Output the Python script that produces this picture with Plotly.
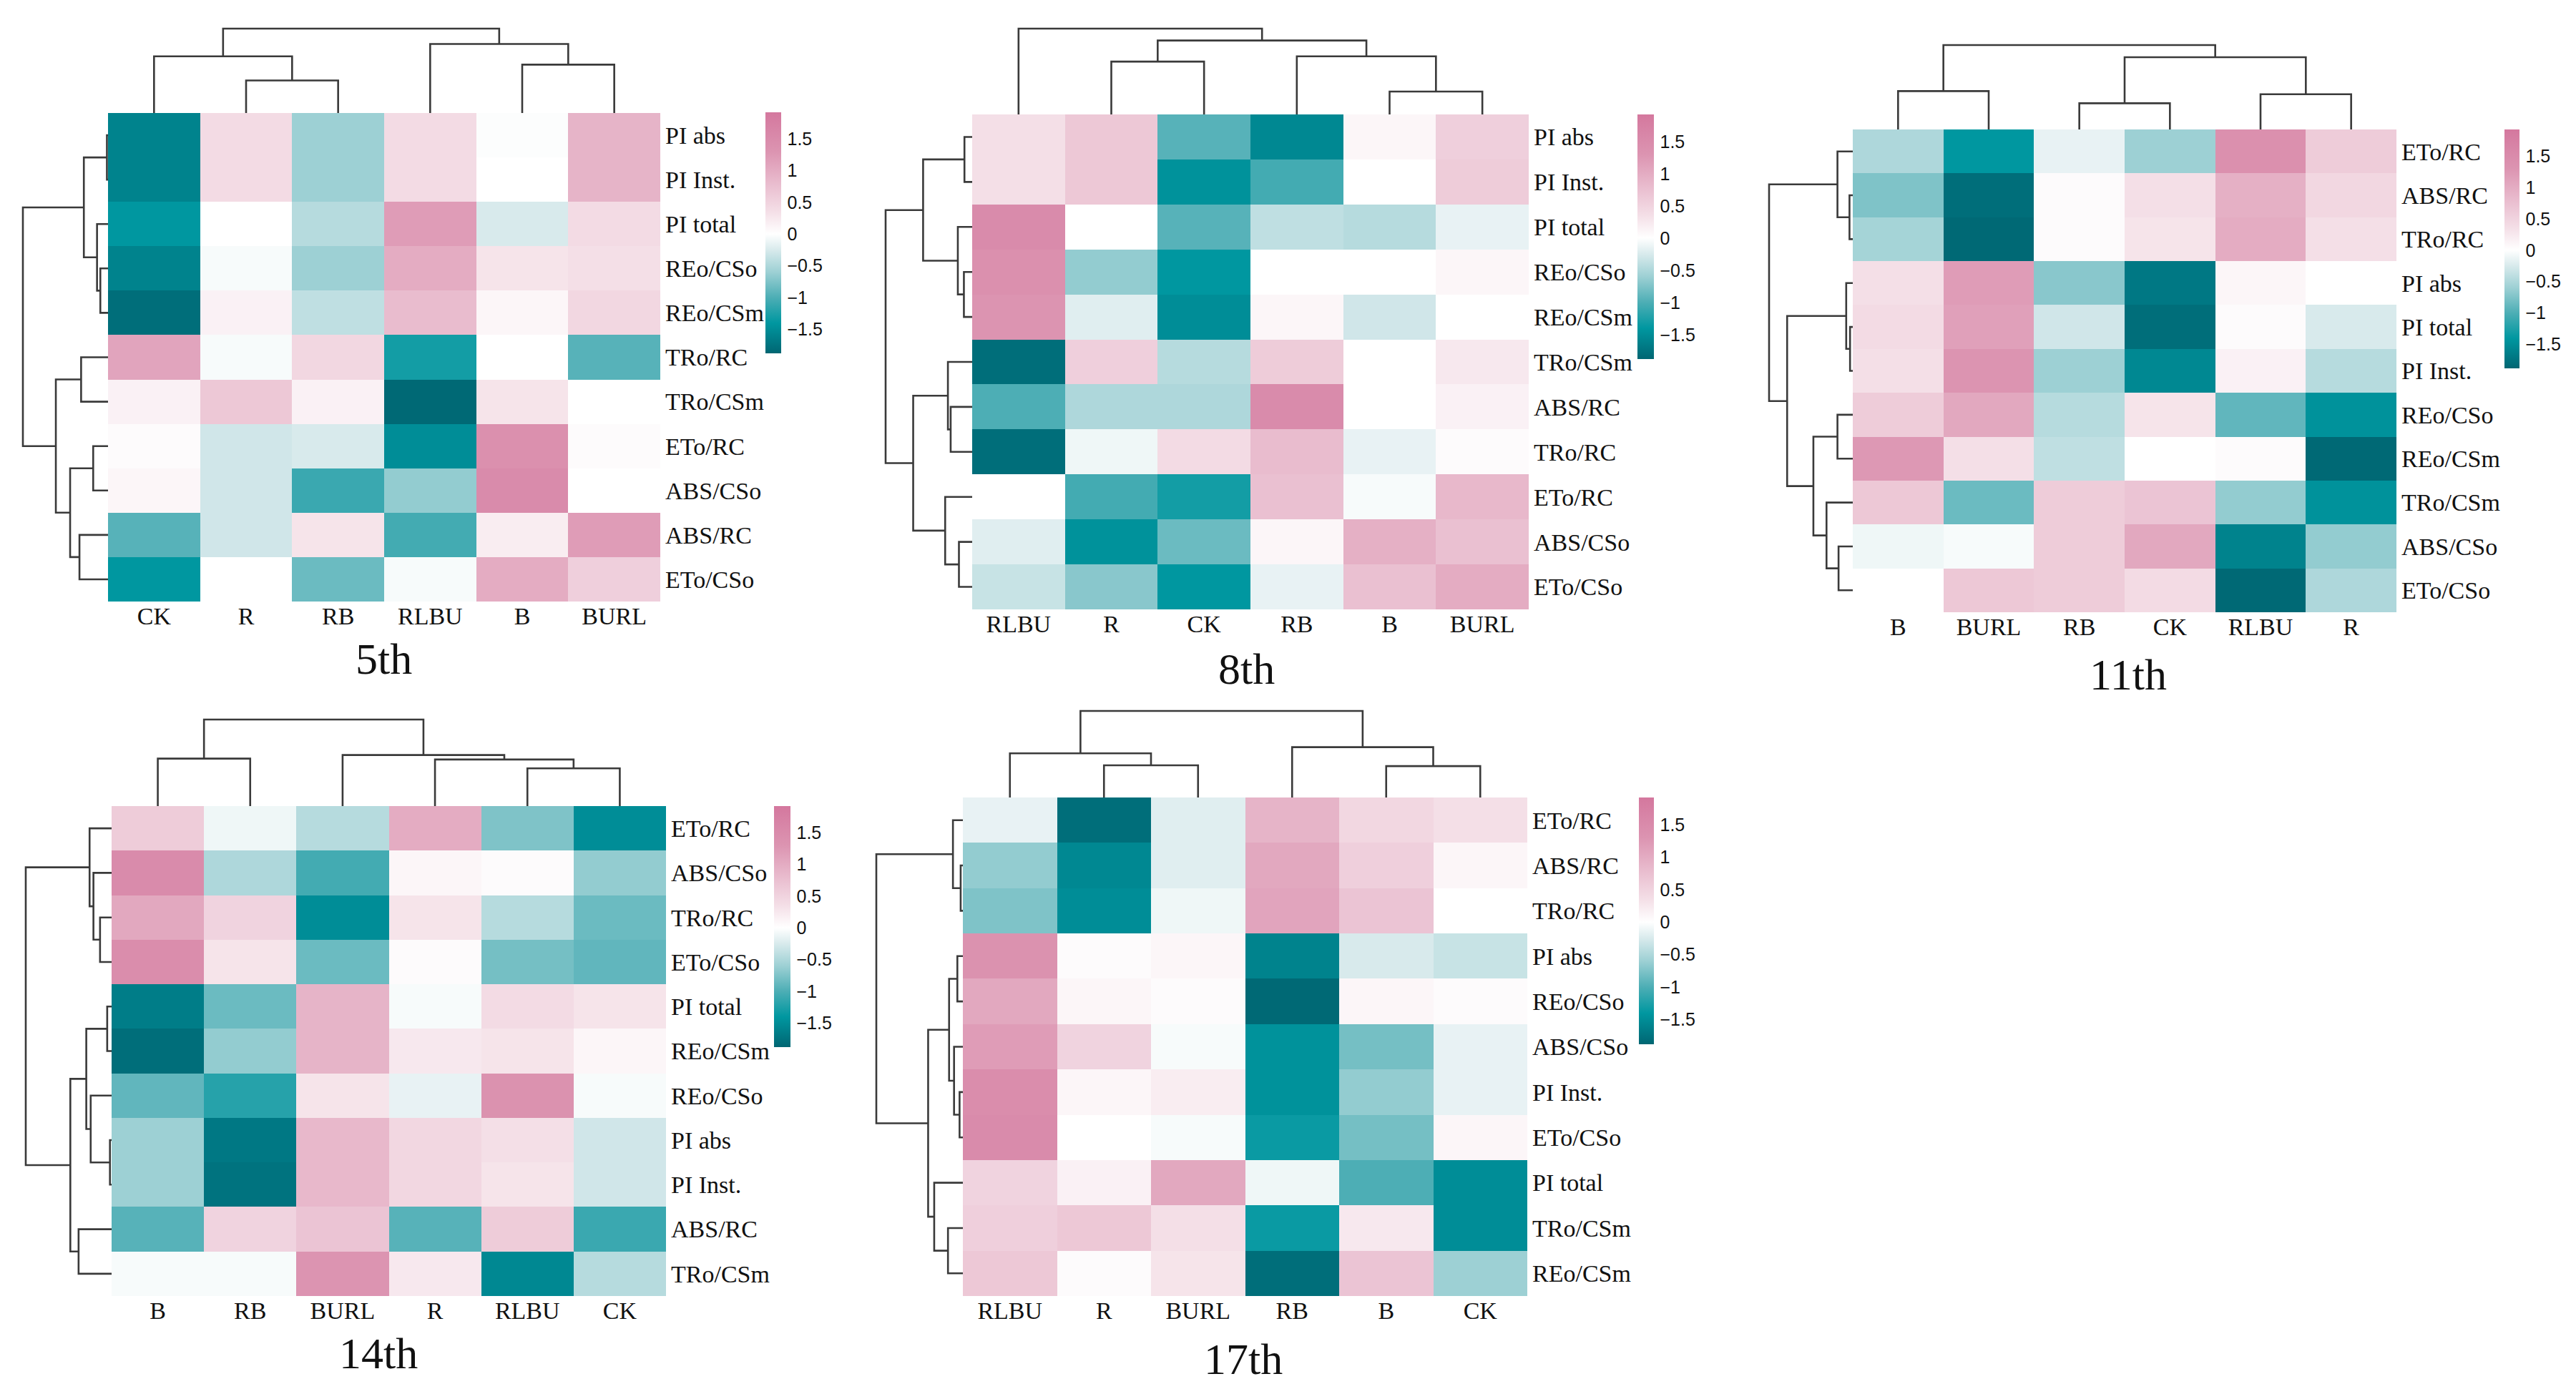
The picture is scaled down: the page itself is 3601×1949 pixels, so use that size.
import plotly.graph_objects as go

W, H = 3601, 1949

# ---- data -------------------------------------------------------------------

panel_titles = ["5th", "8th", "11th", "14th", "17th"]

cols_5th = ["CK", "R", "RB", "RLBU", "B", "BURL"]
rows_5th = ["PI abs", "PI Inst.", "PI total", "REo/CSo", "REo/CSm", "TRo/RC",
            "TRo/CSm", "ETo/RC", "ABS/CSo", "ABS/RC", "ETo/CSo"]
z_5th = [
    [-1.6, 0.4, -0.6, 0.4, -0.02, 0.9],
    [-1.6, 0.4, -0.6, 0.4, 0.0, 0.9],
    [-1.4, 0.0, -0.45, 1.2, -0.25, 0.4],
    [-1.6, -0.05, -0.6, 1.0, 0.3, 0.35],
    [-1.8, 0.15, -0.4, 0.8, 0.1, 0.45],
    [1.1, -0.05, 0.45, -1.3, 0.0, -0.95],
    [0.15, 0.65, 0.15, -1.85, 0.3, 0.0],
    [0.05, -0.3, -0.25, -1.5, 1.4, 0.05],
    [0.1, -0.3, -1.1, -0.65, 1.5, 0.0],
    [-0.95, -0.3, 0.3, -1.05, 0.2, 1.2],
    [-1.4, 0.0, -0.85, -0.05, 1.0, 0.55],
]
# merges: (child a, child b, height); ids >= n refer to earlier merges
top_5th = [(1, 2, 74), (4, 5, 110), (0, 6, 129), (3, 7, 157), (8, 9, 192)]
left_5th = [(0, 1, 2), (3, 4, 14), (2, 12, 20), (11, 13, 44), (5, 6, 49),
            (7, 8, 27), (9, 10, 52), (16, 17, 69), (15, 18, 95), (14, 19, 155)]

cols_8th = ["RLBU", "R", "CK", "RB", "B", "BURL"]
rows_8th = ["PI abs", "PI Inst.", "PI total", "REo/CSo", "REo/CSm", "TRo/CSm",
            "ABS/RC", "TRo/RC", "ETo/RC", "ABS/CSo", "ETo/CSo"]
z_8th = [
    [0.35, 0.65, -0.95, -1.55, 0.1, 0.55],
    [0.35, 0.65, -1.45, -1.05, 0.0, 0.6],
    [1.5, 0.0, -0.95, -0.4, -0.45, -0.15],
    [1.4, -0.65, -1.4, 0.0, 0.0, 0.1],
    [1.3, -0.2, -1.5, 0.1, -0.3, 0.0],
    [-1.8, 0.55, -0.45, 0.6, 0.0, 0.25],
    [-1.0, -0.5, -0.5, 1.5, 0.0, 0.15],
    [-1.8, -0.1, 0.4, 0.8, -0.15, 0.05],
    [0.0, -1.05, -1.3, 0.75, -0.05, 0.85],
    [-0.2, -1.45, -0.85, 0.1, 0.95, 0.75],
    [-0.35, -0.7, -1.4, -0.15, 0.75, 1.0],
]
top_8th = [(1, 2, 120), (4, 5, 52), (3, 7, 132), (6, 8, 168), (0, 9, 195)]
left_8th = [(0, 1, 14), (3, 4, 15), (2, 12, 26), (11, 13, 89), (6, 7, 39),
            (5, 15, 44), (9, 10, 24), (8, 17, 49), (16, 18, 107), (14, 19, 157)]

cols_11th = ["B", "BURL", "RB", "CK", "RLBU", "R"]
rows_11th = ["ETo/RC", "ABS/RC", "TRo/RC", "PI abs", "PI total", "PI Inst.",
             "REo/CSo", "REo/CSm", "TRo/CSm", "ABS/CSo", "ETo/CSo"]
z_11th = [
    [-0.5, -1.4, -0.15, -0.6, 1.4, 0.6],
    [-0.75, -1.8, 0.05, 0.35, 0.95, 0.45],
    [-0.55, -1.85, 0.05, 0.3, 1.0, 0.35],
    [0.35, 1.2, -0.7, -1.7, 0.1, 0.0],
    [0.4, 1.15, -0.3, -1.8, 0.05, -0.25],
    [0.35, 1.3, -0.6, -1.55, 0.15, -0.45],
    [0.6, 1.05, -0.45, 0.3, -0.9, -1.45],
    [1.25, 0.35, -0.4, 0.0, 0.05, -1.85],
    [0.65, -0.85, 0.6, 0.7, -0.65, -1.45],
    [-0.1, -0.05, 0.6, 1.05, -1.6, -0.65],
    [0.0, 0.65, 0.6, 0.4, -1.85, -0.5],
]
top_11th = [(0, 1, 85), (2, 3, 58), (4, 5, 78), (7, 8, 160), (6, 9, 187)]
left_11th = [(1, 2, 6), (0, 11, 28), (4, 5, 5), (3, 13, 12), (6, 7, 28),
             (9, 10, 26), (8, 16, 48), (15, 17, 72), (14, 18, 120), (12, 19, 153)]

cols_14th = ["B", "RB", "BURL", "R", "RLBU", "CK"]
rows_14th = ["ETo/RC", "ABS/CSo", "TRo/RC", "ETo/CSo", "PI total", "REo/CSm",
             "REo/CSo", "PI abs", "PI Inst.", "ABS/RC", "TRo/CSm"]
z_14th = [
    [0.6, -0.1, -0.45, 1.0, -0.75, -1.5],
    [1.5, -0.5, -1.05, 0.1, 0.05, -0.65],
    [1.05, 0.5, -1.5, 0.3, -0.45, -0.85],
    [1.45, 0.3, -0.85, 0.05, -0.8, -0.9],
    [-1.65, -0.85, 0.9, -0.05, 0.4, 0.3],
    [-1.8, -0.65, 0.9, 0.25, 0.3, 0.1],
    [-0.9, -1.2, 0.3, -0.15, 1.35, -0.05],
    [-0.6, -1.7, 0.85, 0.45, 0.35, -0.3],
    [-0.6, -1.75, 0.85, 0.45, 0.3, -0.3],
    [-0.95, 0.5, 0.7, -0.95, 0.6, -1.1],
    [-0.05, -0.05, 1.3, 0.25, -1.55, -0.45],
]
top_14th = [(0, 1, 107), (4, 5, 85), (3, 7, 105), (2, 8, 115), (6, 9, 195)]
left_14th = [(2, 3, 21), (1, 11, 33), (0, 12, 40), (4, 5, 8), (7, 8, 3),
             (6, 15, 38), (14, 16, 46), (9, 10, 60), (17, 18, 75), (13, 19, 156)]

cols_17th = ["RLBU", "R", "BURL", "RB", "B", "CK"]
rows_17th = ["ETo/RC", "ABS/RC", "TRo/RC", "PI abs", "REo/CSo", "ABS/CSo",
             "PI Inst.", "ETo/CSo", "PI total", "TRo/CSm", "REo/CSm"]
z_17th = [
    [-0.15, -1.8, -0.2, 0.9, 0.45, 0.35],
    [-0.65, -1.55, -0.2, 1.05, 0.55, 0.1],
    [-0.75, -1.5, -0.1, 1.1, 0.7, 0.0],
    [1.35, 0.05, 0.1, -1.6, -0.25, -0.35],
    [1.05, 0.1, 0.05, -1.85, 0.1, 0.05],
    [1.2, 0.5, -0.05, -1.45, -0.8, -0.15],
    [1.45, 0.1, 0.2, -1.45, -0.65, -0.15],
    [1.5, 0.0, -0.05, -1.35, -0.8, 0.1],
    [0.5, 0.15, 1.05, -0.1, -1.0, -1.5],
    [0.55, 0.65, 0.35, -1.35, 0.25, -1.5],
    [0.65, 0.05, 0.3, -1.8, 0.7, -0.6],
]
top_17th = [(1, 2, 73), (0, 6, 100), (4, 5, 71), (3, 8, 114), (7, 9, 196)]
left_17th = [(1, 2, 4), (0, 11, 18), (3, 4, 10), (6, 7, 6), (5, 14, 16),
             (13, 15, 25), (9, 10, 27), (8, 17, 52), (16, 18, 63), (12, 19, 157)]

cbar_vals = [-1.5, -1, -0.5, 0, 0.5, 1, 1.5]
cbar_text = ["\u22121.5", "\u22121", "\u22120.5", "0", "0.5", "1", "1.5"]
z_min, z_max = -1.88, 1.92

panels = [
    (cols_5th, rows_5th, z_5th, top_5th, left_5th),
    (cols_8th, rows_8th, z_8th, top_8th, left_8th),
    (cols_11th, rows_11th, z_11th, top_11th, left_11th),
    (cols_14th, rows_14th, z_14th, top_14th, left_14th),
    (cols_17th, rows_17th, z_17th, top_17th, left_17th),
]

# ---- placement (pixels of the 3601x1949 canvas) ------------------------------
# heat box (x0, y0, x1, y1), top-dendro root y, left-dendro root x,
# colour bar (x0, y0, x1, y1), title centre (x, y)
boxes = [
    dict(heat=(151, 158, 923, 841), top=40, left=32,
         cbar=(1070, 157, 1092, 494), title=(536, 921)),
    dict(heat=(1359, 160, 2137, 852), top=40, left=1238,
         cbar=(2289, 160, 2312, 502), title=(1742, 935)),
    dict(heat=(2590, 181, 3350, 856), top=63, left=2473,
         cbar=(3501, 181, 3522, 515), title=(2975, 943)),
    dict(heat=(156, 1127, 931, 1812), top=1006, left=36,
         cbar=(1082, 1127, 1105, 1464), title=(529, 1892)),
    dict(heat=(1346, 1115, 2135, 1812), top=994, left=1225,
         cbar=(2291, 1115, 2312, 1460), title=(1738, 1900)),
]
OFF = 8  # the page body adds an 8 px margin round the figure

colorscale = [
    [0.0, "#006672"], [0.021, "#006e7a"], [0.126, "#0097a0"], [0.232, "#4daeb5"],
    [0.337, "#9dd0d4"], [0.429, "#d8eaec"], [0.495, "#ffffff"], [0.587, "#f4dfe7"],
    [0.705, "#e9bcce"], [0.837, "#dc94b1"], [1.0, "#d4789e"],
]

SERIF = "Liberation Serif, Times New Roman, serif"
LABEL_FONT = dict(family=SERIF, size=34, color="#111111")
TICK_FONT = dict(family="Liberation Sans, Arial, sans-serif", size=25, color="#111111")
LINE = dict(color="#3a3a3a", width=2.6)


def fx(px):
    return (px - OFF) / W


def fy(py):
    return 1 - (py - OFF) / H


def dendro_segments(merges, n):
    pos = list(range(n)) + [None] * len(merges)
    hgt = [0.0] * n + [None] * len(merges)
    xs, ys = [], []
    for k, (a, b, h) in enumerate(merges):
        xs += [pos[a], pos[a], pos[b], pos[b], None]
        ys += [hgt[a], h, h, hgt[b], None]
        pos[n + k] = (pos[a] + pos[b]) / 2
        hgt[n + k] = h
    return xs, ys


def sfx(k):
    return "" if k == 1 else str(k)


fig = go.Figure()
layout = {}
PAD = 3  # px of headroom so the root line is not clipped

for i, ((cols, rows, z, top, left), box) in enumerate(zip(panels, boxes)):
    hx0, hy0, hx1, hy1 = box["heat"]
    nc, nr = len(cols), len(rows)
    a_heat, a_top, a_left = 3 * i + 1, 3 * i + 2, 3 * i + 3

    cx0, cy0, cx1, cy1 = box["cbar"]
    fig.add_trace(go.Heatmap(
        z=z, x=list(range(nc)), y=list(range(nr)),
        colorscale=colorscale, zmin=z_min, zmax=z_max,
        xaxis="x" + sfx(a_heat), yaxis="y" + sfx(a_heat),
        hoverinfo="skip",
        colorbar=dict(
            x=fx(cx0), xanchor="left", y=fy(cy0), yanchor="top",
            len=(cy1 - cy0) / H, lenmode="fraction",
            thickness=cx1 - cx0, thicknessmode="pixels",
            xpad=0, ypad=0, outlinewidth=0,
            tickvals=cbar_vals, ticktext=cbar_text,
            ticks="outside", ticklen=4, tickcolor="rgba(0,0,0,0)",
            tickfont=TICK_FONT,
        ),
    ))
    layout["xaxis" + sfx(a_heat)] = dict(
        domain=[fx(hx0), fx(hx1)], range=[-0.5, nc - 0.5],
        anchor="y" + sfx(a_heat), tickvals=list(range(nc)), ticktext=cols,
        tickfont=LABEL_FONT, showgrid=False, zeroline=False, showline=False,
        ticks="", ticklabelstandoff=-3,
    )
    layout["yaxis" + sfx(a_heat)] = dict(
        domain=[fy(hy1), fy(hy0)], range=[nr - 0.5, -0.5],
        anchor="x" + sfx(a_heat), side="right",
        tickvals=list(range(nr)), ticktext=rows,
        tickfont=LABEL_FONT, showgrid=False, zeroline=False, showline=False,
        ticks="", ticklabelstandoff=6,
    )

    # column dendrogram
    xs, ys = dendro_segments(top, nc)
    root_top = top[-1][2]
    span = hy0 - box["top"]
    fig.add_trace(go.Scatter(
        x=xs, y=ys, mode="lines", line=LINE, hoverinfo="skip",
        xaxis="x" + sfx(a_top), yaxis="y" + sfx(a_top),
    ))
    layout["xaxis" + sfx(a_top)] = dict(
        domain=[fx(hx0), fx(hx1)], range=[-0.5, nc - 0.5],
        anchor="y" + sfx(a_top), visible=False,
    )
    layout["yaxis" + sfx(a_top)] = dict(
        domain=[fy(hy0), fy(box["top"] - PAD)],
        range=[0, root_top * (span + PAD) / span],
        anchor="x" + sfx(a_top), visible=False,
    )

    # row dendrogram
    xs, ys = dendro_segments(left, nr)
    root_left = left[-1][2]
    span = hx0 - box["left"]
    fig.add_trace(go.Scatter(
        x=ys, y=xs, mode="lines", line=LINE, hoverinfo="skip",
        xaxis="x" + sfx(a_left), yaxis="y" + sfx(a_left),
    ))
    layout["xaxis" + sfx(a_left)] = dict(
        domain=[fx(box["left"] - PAD), fx(hx0)],
        range=[root_left * (span + PAD) / span, 0],
        anchor="y" + sfx(a_left), visible=False,
    )
    layout["yaxis" + sfx(a_left)] = dict(
        domain=[fy(hy1), fy(hy0)], range=[nr - 0.5, -0.5],
        anchor="x" + sfx(a_left), visible=False,
    )

annotations = []
for title, box in zip(panel_titles, boxes):
    tx, ty = box["title"]
    annotations.append(dict(
        text=title, x=fx(tx), y=fy(ty), xref="paper", yref="paper",
        xanchor="center", yanchor="middle", showarrow=False,
        font=dict(family=SERIF, size=62, color="#111111"),
    ))

fig.update_layout(
    width=W, height=H,
    margin=dict(l=0, r=0, t=0, b=0),
    paper_bgcolor="white", plot_bgcolor="white",
    showlegend=False,
    annotations=annotations,
    **layout,
)

fig.write_html("out.html")
